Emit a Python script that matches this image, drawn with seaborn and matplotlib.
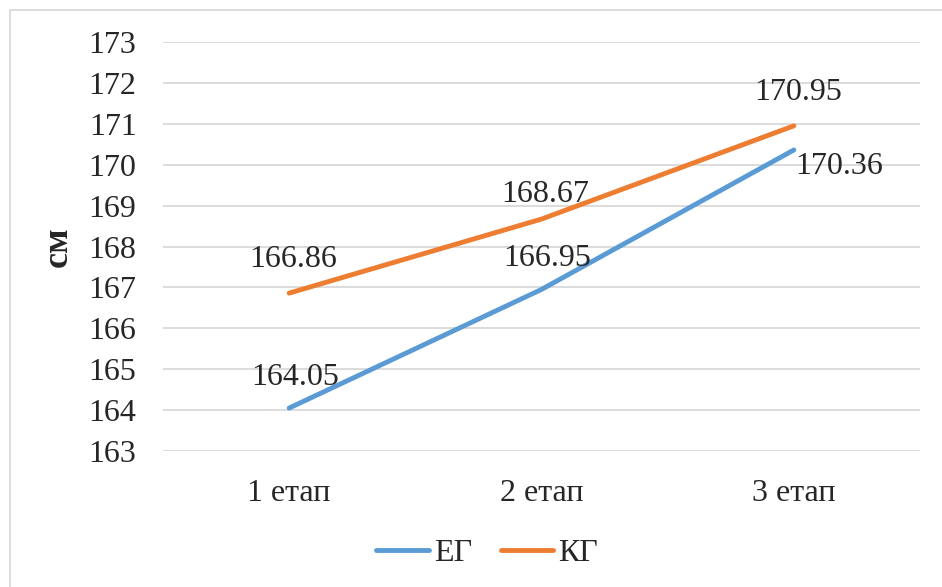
import pandas as pd
import matplotlib.pyplot as plt
import seaborn as sns
from matplotlib.patches import Rectangle

# --- datos ---
etapy = ['1 етап', '2 етап', '3 етап']
eg = [164.05, 166.95, 170.36]
kg = [166.86, 168.67, 170.95]
grupy = ['ЕГ', 'КГ']
y_ticks = list(range(163, 174))

df = pd.DataFrame({
    'etap': list(range(len(etapy))) * 2,
    'value': eg + kg,
    'group': [grupy[0]] * len(eg) + [grupy[1]] * len(kg),
})

sns.set_style('white')
plt.rcParams['font.family'] = ['Liberation Serif', 'DejaVu Serif']

fig = plt.figure(figsize=(9.42, 5.87), dpi=100)
ax = fig.add_axes([163 / 942, 1 - 451 / 587, (920 - 163) / 942, (451 - 42) / 587])

colors = {'ЕГ': '#5B9BD5', 'КГ': '#ED7D31'}
sns.lineplot(data=df, x='etap', y='value', hue='group', palette=colors,
             linewidth=3.5, ax=ax, legend=True)
for ln in ax.get_lines():
    ln.set_solid_capstyle('round')

# etiquetas de datos
fs = 23
for i, v in enumerate(eg):
    if i == 2:
        ax.annotate(f'{v:.2f}', (i, v), xytext=(1, -12), textcoords='offset points',
                    ha='left', va='center', fontsize=fs, color='#262626')
    else:
        ax.annotate(f'{v:.2f}', (i, v), xytext=(4, 22), textcoords='offset points',
                    ha='center', va='center', fontsize=fs, color='#262626')
for i, v in enumerate(kg):
    dy = 18 if i == 1 else 24
    ax.annotate(f'{v:.2f}', (i, v), xytext=(3, dy), textcoords='offset points',
                ha='center', va='center', fontsize=fs, color='#262626')

ax.set_xlim(-0.5, 2.5)
ax.set_ylim(163, 173)
ax.set_yticks(y_ticks)
ax.set_xticks(range(len(etapy)))
ax.set_xticklabels(etapy)
ax.tick_params(axis='both', length=0, labelsize=fs, colors='#262626')
ax.tick_params(axis='y', pad=19)
ax.tick_params(axis='x', pad=20)
ax.yaxis.grid(True, color='#D9D9D9', linewidth=1.3)
ax.set_axisbelow(True)
sns.despine(ax=ax, left=True, top=True, right=True, bottom=True)
ax.set_xlabel('')
ax.set_ylabel('см', fontsize=26, fontweight='bold', color='#262626', labelpad=10)

leg = ax.legend(loc='center', bbox_to_anchor=(0.517, 0.057), bbox_transform=fig.transFigure,
                ncol=2, frameon=False, fontsize=fs, handlelength=1.65,
                handletextpad=0.15, columnspacing=0.9)
for h in leg.get_lines():
    h.set_linewidth(3.5)
    h.set_solid_capstyle('round')
for t in leg.get_texts():
    t.set_color('#262626')

# marco
fig.patches.append(Rectangle((10 / 942, -0.02), 1.02, 1 - 10 / 587 + 0.02,
                             transform=fig.transFigure, fill=False,
                             edgecolor='#D9D9D9', linewidth=1.3))

fig.savefig('out.png', dpi=100, facecolor='white')
